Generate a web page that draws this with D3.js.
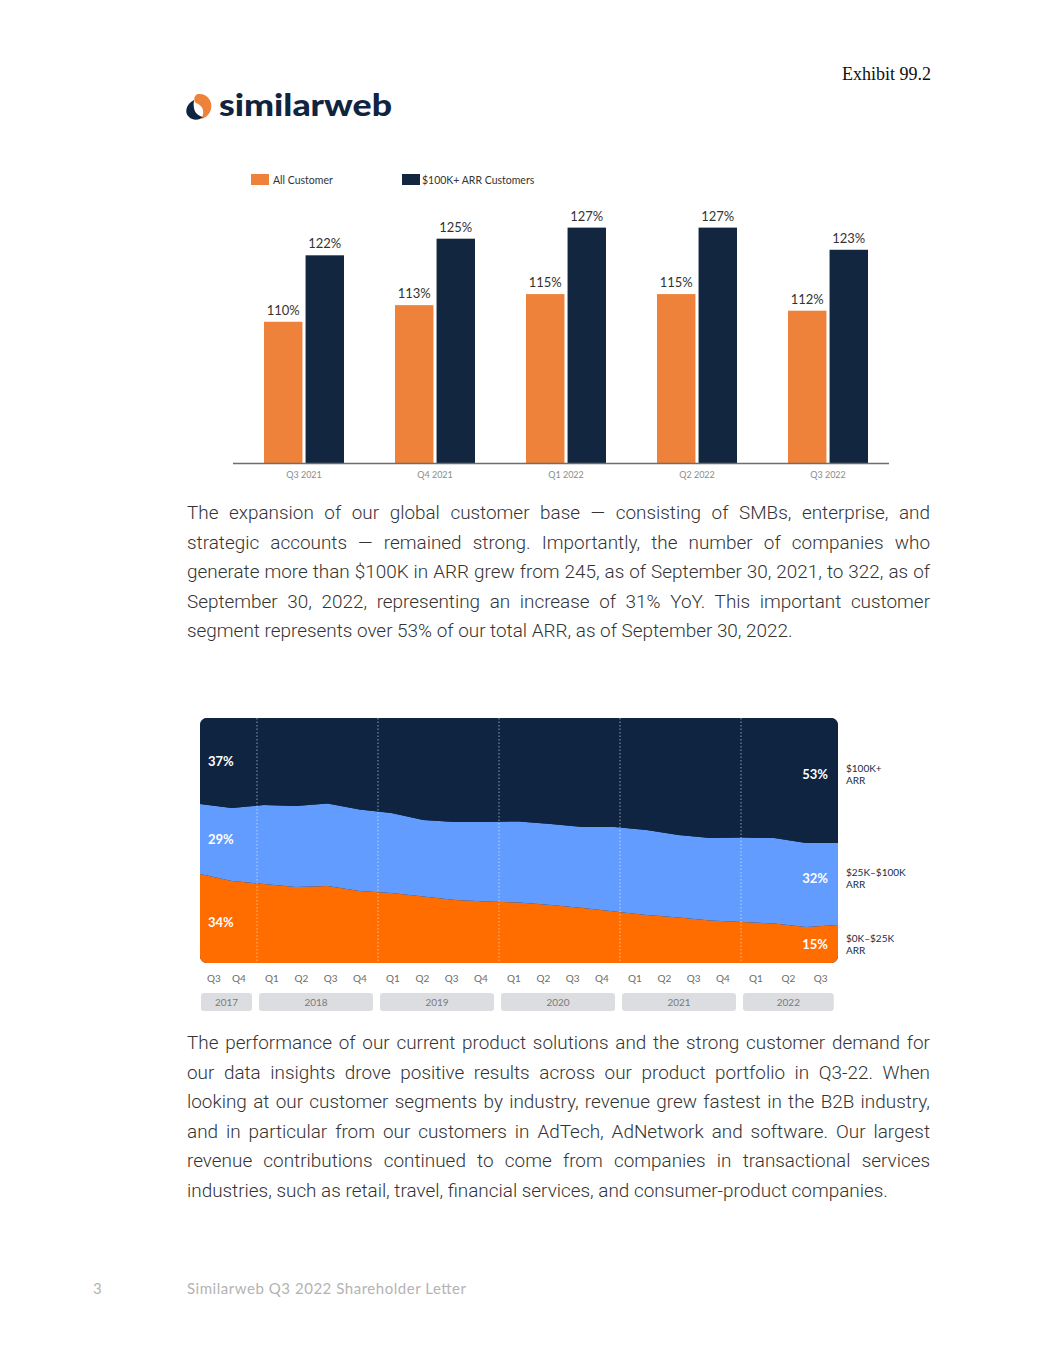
<!DOCTYPE html>
<html><head><meta charset="utf-8">
<script src="https://cdn.jsdelivr.net/npm/d3@7"></script>
<style>
body{margin:0;background:#fff;}
svg{display:block;}
</style></head>
<body><svg id="page" width="1055" height="1365"></svg>
<script>
// ---------- DATA ----------
const barCategories = ["Q3 2021", "Q4 2021", "Q1 2022", "Q2 2022", "Q3 2022"];
const barSeriesNames = ["All Customer", "$100K+ ARR Customers"];
const allCustomerNDR = [110, 113, 115, 115, 112];
const arr100kNDR = [122, 125, 127, 127, 123];

const quarterLabels = ["Q3","Q4","Q1","Q2","Q3","Q4","Q1","Q2","Q3","Q4","Q1","Q2","Q3","Q4","Q1","Q2","Q3","Q4","Q1","Q2","Q3"];
const quarterYears = [2017,2017,2018,2018,2018,2018,2019,2019,2019,2019,2020,2020,2020,2020,2021,2021,2021,2021,2022,2022,2022];
const share0to25k   = [36.3,33.5,32.2,31.0,31.4,29.4,28.6,27.1,25.7,25.1,24.7,23.7,22.4,21.0,19.6,18.6,17.3,16.7,16.1,14.7,15.5];
const share25to100k = [28.6,29.8,32.3,33.1,33.7,33.3,32.6,31.3,31.9,32.5,33.1,33.0,33.1,34.5,34.7,33.6,33.7,34.5,34.9,34.3,33.5];
const share100kPlus = [35.1,36.7,35.5,35.9,34.9,37.3,38.8,41.6,42.4,42.4,42.2,43.3,44.5,44.5,45.7,47.8,49.0,48.8,49.0,51.0,51.0];
const tierKeys = ["small", "mid", "large"];
const tierStartLabels = ["34%", "29%", "37%"];
const tierEndLabels = ["15%", "32%", "53%"];
const tierNames = [["$0K–$25K", "ARR"], ["$25K–$100K", "ARR"], ["$100K+", "ARR"]];

const paragraph1 = [
  "The expansion of our global customer base — consisting of SMBs, enterprise, and",
  "strategic accounts — remained strong. Importantly, the number of companies who",
  "generate more than $100K in ARR grew from 245, as of September 30, 2021,  to 322, as of",
  "September 30, 2022, representing an increase of 31% YoY. This important customer",
  "segment represents over 53% of our total ARR, as of September 30, 2022."
];
const paragraph2 = [
  "The performance of our current product solutions and the strong customer demand for",
  "our data insights drove positive results across our product portfolio in Q3-22. When",
  "looking at our customer segments by industry, revenue grew fastest in the B2B industry,",
  "and in particular from our customers in AdTech, AdNetwork and software. Our largest",
  "revenue contributions continued to come from companies in transactional services",
  "industries, such as retail, travel, financial services, and consumer-product companies."
];

// ---------- STYLE ----------
const C = {
  barOrange: "#EE823A", barNavy: "#12263F",
  areaNavy: "#0F2440", areaBlue: "#629CFF", areaOrange: "#FF6C00"
};
const chartFont = "Lato, 'Noto Sans', sans-serif";
const svg = d3.select("#page");

// ---------- HEADER ----------
svg.append("text").attr("x", 931).attr("y", 80).attr("text-anchor", "end")
  .attr("font-family", "'Liberation Serif', serif").attr("font-size", 18)
  .attr("fill", "#111").text("Exhibit 99.2");

const logo = svg.append("g");
logo.append("path").attr("fill", C.barOrange)
  .attr("d", "M198,94 C207,93 213,101 211,109 C210,114 206,118 201,119 C205,113 204,106 196,103 C193,101 194,95 198,94 Z");
logo.append("path").attr("fill", C.areaNavy)
  .attr("d", "M194,100 C186,104 184,113 189,117 C193,121 200,120 203,117 C198,116 192,112 194,100 Z");
svg.append("text").attr("x", 219).attr("y", 116)
  .attr("font-family", chartFont).attr("font-weight", 900).attr("font-size", 31)
  .attr("fill", C.areaNavy).attr("textLength", 173).attr("lengthAdjust", "spacingAndGlyphs")
  .text("similarweb");

// ---------- BAR CHART ----------
const bx = d3.scaleBand().domain(barCategories).range([238.5, 893.5]);
const bInner = d3.scaleBand().domain(barSeriesNames)
  .range([bx.bandwidth() / 2 - 40, bx.bandwidth() / 2 + 40]).paddingInner(0.075);
const by = d3.scaleLinear().domain([84.5, 130]).range([463, 211]);
const barColor = d3.scaleOrdinal().domain(barSeriesNames).range([C.barOrange, C.barNavy]);
const barRows = barCategories.map((c, i) => ({cat: c, vals: [allCustomerNDR[i], arr100kNDR[i]]}));

const bars = svg.append("g");
barRows.forEach(row => {
  row.vals.forEach((v, j) => {
    const s = barSeriesNames[j];
    const x = bx(row.cat) + bInner(s);
    bars.append("rect").attr("x", x).attr("y", by(v))
      .attr("width", bInner.bandwidth()).attr("height", by.range()[0] - by(v))
      .attr("fill", barColor(s));
    bars.append("text").attr("x", x + bInner.bandwidth() / 2).attr("y", by(v) - 7)
      .attr("text-anchor", "middle").attr("font-family", chartFont).attr("font-size", 13)
      .attr("fill", "#333").text(v + "%");
  });
});
svg.append("line").attr("x1", 233).attr("x2", 889).attr("y1", 463.5).attr("y2", 463.5)
  .attr("stroke", "#6e6e6e").attr("stroke-width", 1.3);
const bAxis = svg.append("g").attr("transform", "translate(0,463)")
  .call(d3.axisBottom(bx).tickSize(0).tickPadding(9));
bAxis.select(".domain").remove();
bAxis.selectAll("text").attr("font-family", chartFont).attr("font-size", 9).attr("fill", "#8c8c8c");

// legend
const legX = [251, 402];
barSeriesNames.forEach((s, i) => {
  svg.append("rect").attr("x", legX[i]).attr("y", 174).attr("width", 18).attr("height", 11)
    .attr("fill", barColor(s));
  svg.append("text").attr("x", legX[i] + (i === 0 ? 22 : 20)).attr("y", 183.5)
    .attr("font-family", chartFont).attr("font-size", 10.5).attr("fill", "#333").text(s);
});

// ---------- PARAGRAPHS ----------
const paraWidth = 743;
// size the body font so the fullest line fits the column, as in the reference
const probe = svg.append("text").attr("font-family", "Roboto, sans-serif").attr("font-weight", 300)
  .attr("font-size", 17).text(paragraph1[2]);
const bodySize = 17 * (paraWidth - 6) / probe.node().getComputedTextLength();
probe.remove();
function paragraph(lines, y0) {
  const g = svg.append("g");
  lines.forEach((ln, i) => {
    const t = g.append("text").attr("x", 187).attr("y", y0 + i * 29.6)
      .attr("font-family", "Roboto, sans-serif").attr("font-weight", 300)
      .attr("font-size", bodySize).attr("fill", "#333").text(ln);
    if (i < lines.length - 1) {
      const w = t.node().getComputedTextLength();
      const spaces = ln.replace(/\s+/g, " ").split(" ").length - 1;
      t.style("word-spacing", ((paraWidth - w) / spaces) + "px");
    }
  });
}
paragraph(paragraph1, 519);
paragraph(paragraph2, 1049);

// ---------- AREA CHART ----------
const aLeft = 200, aRight = 838, aTop = 718, aBottom = 963;
const areaRows = quarterLabels.map((q, i) => ({
  i, small: share0to25k[i], mid: share25to100k[i], large: share100kPlus[i]
}));
const ax = d3.scalePoint().domain(d3.range(areaRows.length)).range([aLeft, aRight]);
const ay = d3.scaleLinear().domain([0, 100]).range([aBottom, aTop]);
const stack = d3.stack().keys(tierKeys)(areaRows);
const areaColor = d3.scaleOrdinal().domain(tierKeys).range([C.areaOrange, C.areaBlue, C.areaNavy]);

svg.append("clipPath").attr("id", "aclip").append("rect")
  .attr("x", aLeft).attr("y", aTop).attr("width", aRight - aLeft).attr("height", aBottom - aTop).attr("rx", 7);
const ag = svg.append("g").attr("clip-path", "url(#aclip)");
ag.append("rect").attr("x", aLeft).attr("y", aTop).attr("width", aRight - aLeft)
  .attr("height", aBottom - aTop).attr("fill", C.areaNavy);
const area = d3.area().x(d => ax(d.data.i)).y0(d => ay(d[0])).y1(d => ay(d[1]));
ag.selectAll("path.layer").data(stack).join("path").attr("class", "layer")
  .attr("d", d => area(d)).attr("fill", d => areaColor(d.key));

// year groups
const years = Array.from(new Set(quarterYears));
const slot = d3.scaleLinear().domain([0, quarterYears.length]).range([198.5, 833.75]);
const yearGroups = years.map((yr, k) => {
  const first = quarterYears.indexOf(yr);
  const last = quarterYears.lastIndexOf(yr);
  const x0 = slot(first) + (k === 0 ? 2.5 : 0);
  const x1 = k === years.length - 1 ? slot(last + 1) : slot(last + 1) - 7;
  return {yr, first, last, x0, x1};
});

// year dividers
yearGroups.slice(1).forEach(g => {
  ag.append("line").attr("x1", slot(g.first) - 2).attr("x2", slot(g.first) - 2)
    .attr("y1", aTop).attr("y2", aBottom)
    .attr("stroke", "#ffffff").attr("stroke-opacity", 0.55).attr("stroke-width", 1)
    .attr("stroke-dasharray", "1.5,2");
});

// tier labels
stack.forEach((layer, k) => {
  const f = layer[0], l = layer[layer.length - 1];
  svg.append("text").attr("x", 208).attr("y", (ay(f[0]) + ay(f[1])) / 2 + 5 + (k === 0 ? 3 : 0))
    .attr("font-family", chartFont).attr("font-weight", 700).attr("font-size", 13)
    .attr("fill", "#fff").text(tierStartLabels[k]);
  const cy = (ay(l[0]) + ay(l[1])) / 2 - (k === 0 ? 0 : 6);
  svg.append("text").attr("x", 828).attr("y", cy + 5).attr("text-anchor", "end")
    .attr("font-family", chartFont).attr("font-weight", 700).attr("font-size", 13)
    .attr("fill", "#fff").text(tierEndLabels[k]);
  tierNames[k].forEach((nm, j) => {
    svg.append("text").attr("x", 846).attr("y", cy - 2 + j * 12)
      .attr("font-family", chartFont).attr("font-size", 10).attr("fill", "#1b2a44").text(nm);
  });
});

// quarter ticks and year badges
yearGroups.forEach(g => {
  const idx = d3.range(g.first, g.last + 1);
  const qp = d3.scalePoint().domain(idx).range([g.x0 + 13, g.x1 - 13]);
  idx.forEach(i => {
    svg.append("text").attr("x", qp(i)).attr("y", 982).attr("text-anchor", "middle")
      .attr("font-family", chartFont).attr("font-size", 10).attr("fill", "#6b6b6b")
      .text(quarterLabels[i]);
  });
  svg.append("rect").attr("x", g.x0).attr("y", 993).attr("width", g.x1 - g.x0).attr("height", 18)
    .attr("rx", 3).attr("fill", "#dcdde1");
  svg.append("text").attr("x", (g.x0 + g.x1) / 2).attr("y", 1005.5).attr("text-anchor", "middle")
    .attr("font-family", chartFont).attr("font-size", 10).attr("fill", "#7a7a7a").text(g.yr);
});

// ---------- FOOTER ----------
svg.append("text").attr("x", 93).attr("y", 1294).attr("font-family", chartFont)
  .attr("font-size", 15).attr("fill", "#b3b3b3").text("3");
svg.append("text").attr("x", 187).attr("y", 1294).attr("font-family", chartFont)
  .attr("font-size", 15).attr("fill", "#b3b3b3").attr("textLength", 279)
  .text("Similarweb Q3 2022 Shareholder Letter");
</script>
</body></html>
